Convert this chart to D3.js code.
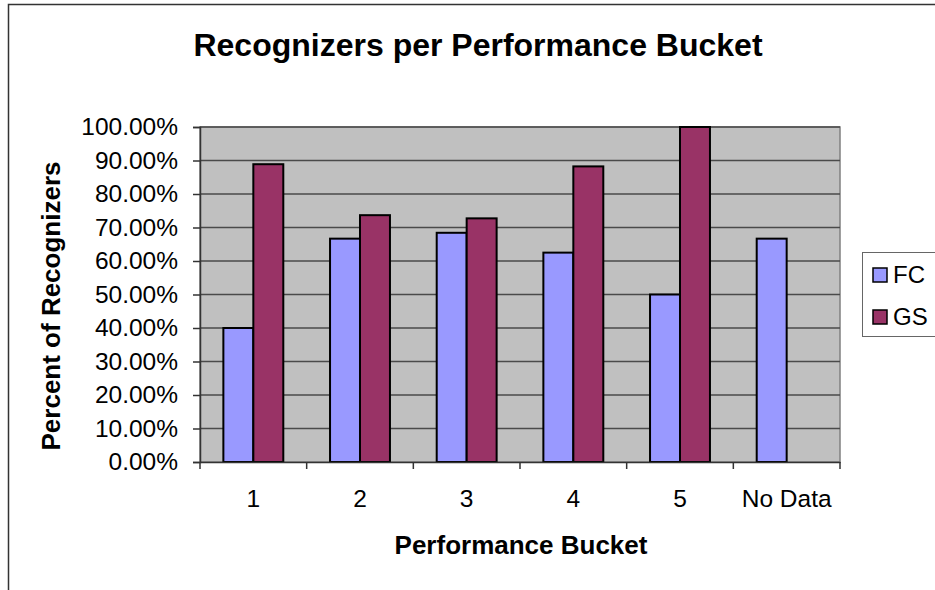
<!DOCTYPE html>
<html>
<head>
<meta charset="utf-8">
<script src="https://cdn.jsdelivr.net/npm/d3@7"></script>
<style>
  body { margin: 0; background: #fff; }
  svg { display: block; font-family: "Liberation Sans", Arial, sans-serif; }
</style>
</head>
<body>
<svg id="chart" width="935" height="590"></svg>
<script>
const categories = ["1", "2", "3", "4", "5", "No Data"];
const series = ["FC", "GS"];
const fcValues = [0.4, 0.6667, 0.6842, 0.625, 0.5, 0.6667];
const gsValues = [0.8889, 0.7368, 0.7273, 0.8824, 1.0, null];
const yTicks = [0, 0.1, 0.2, 0.3, 0.4, 0.5, 0.6, 0.7, 0.8, 0.9, 1.0];

const COLORS = { FC: "#9999ff", GS: "#993366" };

const PLOT = { left: 200, right: 840, top: 127, bottom: 462 };

const svg = d3.select("#chart");

// outer chart frame
svg
  .append("rect")
  .attr("x", 8.5)
  .attr("y", 4.5)
  .attr("width", 1000)
  .attr("height", 700)
  .attr("fill", "#fff")
  .attr("stroke", "#333")
  .attr("stroke-width", 1.5);

const x = d3
  .scaleBand()
  .domain(categories)
  .range([PLOT.left, PLOT.right]);

const xSub = d3
  .scaleBand()
  .domain(series)
  .range([0, x.bandwidth()])
  .paddingOuter(0.78);

const y = d3.scaleLinear().domain([0, 1]).range([PLOT.bottom, PLOT.top]);

svg
  .append("rect")
  .attr("x", PLOT.left)
  .attr("y", PLOT.top)
  .attr("width", PLOT.right - PLOT.left)
  .attr("height", PLOT.bottom - PLOT.top)
  .attr("fill", "#c0c0c0")
  .attr("stroke", "#808080")
  .attr("stroke-width", 1.5);

svg
  .append("g")
  .attr("class", "grid")
  .selectAll("line")
  .data(yTicks.filter((d) => d > 0))
  .join("line")
  .attr("x1", PLOT.left)
  .attr("x2", PLOT.right)
  .attr("y1", (d) => y(d))
  .attr("y2", (d) => y(d))
  .attr("stroke", "#4a4a4a")
  .attr("stroke-width", 1.4);

const rows = categories.map((c, i) => ({ cat: c, FC: fcValues[i], GS: gsValues[i] }));

svg
  .append("g")
  .attr("class", "bars")
  .selectAll("g")
  .data(rows)
  .join("g")
  .attr("transform", (d) => `translate(${x(d.cat)},0)`)
  .selectAll("rect")
  .data((d) => series.filter((s) => d[s] != null).map((s) => ({ key: s, value: d[s] })))
  .join("rect")
  .attr("x", (d) => xSub(d.key))
  .attr("y", (d) => y(d.value))
  .attr("width", xSub.bandwidth())
  .attr("height", (d) => y(0) - y(d.value))
  .attr("fill", (d) => COLORS[d.key])
  .attr("stroke", "#000")
  .attr("stroke-width", 2);

// y axis
const yAxis = svg
  .append("g")
  .attr("transform", `translate(${PLOT.left},0)`)
  .call(
    d3
      .axisLeft(y)
      .tickValues(yTicks)
      .tickSize(7)
      .tickPadding(15)
      .tickFormat(d3.format(".2%"))
  );

yAxis.select(".domain").attr("stroke", "#333").attr("stroke-width", 1.5);
yAxis.selectAll(".tick line").attr("stroke", "#333").attr("stroke-width", 1.5);
yAxis
  .selectAll(".tick text")
  .attr("font-size", 24.5)
  .attr("fill", "#000")
  .attr("font-family", "Liberation Sans, Arial, sans-serif");

// x axis
const xAxis = svg
  .append("g")
  .attr("transform", `translate(0,${PLOT.bottom})`)
  .call(d3.axisBottom(x).tickSize(0).tickPadding(28));

xAxis.select(".domain").attr("stroke", "#333").attr("stroke-width", 1.5);
xAxis
  .selectAll(".tick text")
  .attr("font-size", 24.5)
  .attr("fill", "#000")
  .attr("font-family", "Liberation Sans, Arial, sans-serif");

xAxis
  .selectAll(".sep")
  .data(d3.range(categories.length + 1))
  .join("line")
  .attr("class", "sep")
  .attr("x1", (i) => PLOT.left + i * x.step())
  .attr("x2", (i) => PLOT.left + i * x.step())
  .attr("y1", 0)
  .attr("y2", 7)
  .attr("stroke", "#333")
  .attr("stroke-width", 1.5);

// titles
svg
  .append("text")
  .attr("x", 478)
  .attr("y", 56)
  .attr("text-anchor", "middle")
  .attr("font-size", 32)
  .attr("font-weight", "bold")
  .text("Recognizers per Performance Bucket");

svg
  .append("text")
  .attr("x", 521)
  .attr("y", 554)
  .attr("text-anchor", "middle")
  .attr("font-size", 26)
  .attr("font-weight", "bold")
  .text("Performance Bucket");

svg
  .append("text")
  .attr("transform", "translate(60,306) rotate(-90)")
  .attr("text-anchor", "middle")
  .attr("font-size", 26)
  .attr("font-weight", "bold")
  .text("Percent of Recognizers");

// legend
const legend = svg.append("g").attr("transform", "translate(862,252)");

legend
  .append("rect")
  .attr("x", 0.5)
  .attr("y", 0.5)
  .attr("width", 90)
  .attr("height", 84)
  .attr("fill", "#fff")
  .attr("stroke", "#666")
  .attr("stroke-width", 1);

const items = legend
  .selectAll(".item")
  .data(series)
  .join("g")
  .attr("class", "item")
  .attr("transform", (d, i) => `translate(0,${16 + i * 42})`);

items
  .append("rect")
  .attr("x", 11)
  .attr("y", 0)
  .attr("width", 14)
  .attr("height", 14)
  .attr("fill", (d) => COLORS[d])
  .attr("stroke", "#000")
  .attr("stroke-width", 1.5);

items
  .append("text")
  .attr("x", 31)
  .attr("y", 15)
  .attr("font-size", 24)
  .text((d) => d);
</script>
</body>
</html>
